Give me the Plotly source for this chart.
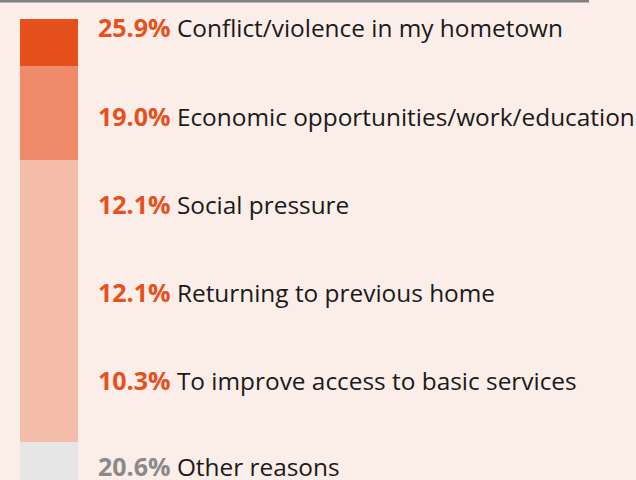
import plotly.graph_objects as go

# Data
categories = [
    "Conflict/violence in my hometown",
    "Economic opportunities/work/education",
    "Social pressure",
    "Returning to previous home",
    "To improve access to basic services",
    "Other reasons",
]
percentages = [25.9, 19.0, 12.1, 12.1, 10.3, 20.6]
# segment lengths of the single stacked bar, as drawn (relative units)
bar_units = [1, 2, 2, 2, 2, 2]

seg_colors = ["#e5501d", "#ef8b6b", "#f4bda9", "#f4bda9", "#f4bda9", "#e6e6e6"]
pct_colors = ["#e5501d"] * 5 + ["#8a8a8a"]

BG = "#fbede8"
W, H = 636, 480
px_per_unit = 47.0
bar_top_px = 19.0

fig = go.Figure()
for cat, u, c in zip(categories, bar_units, seg_colors):
    fig.add_trace(go.Bar(
        x=[0], y=[u], name=cat, marker=dict(color=c, line=dict(width=0)),
        width=1, hoverinfo="skip", showlegend=False,
    ))

y_top = -bar_top_px / px_per_unit
y_bot = (H - bar_top_px) / px_per_unit
x_left = -0.5 - 20 / 58.0
x_right = x_left + W / 58.0

label_px = [27, 116, 204, 292, 380, 466]
for cat, p, pc, lp in zip(categories, percentages, pct_colors, label_px):
    fig.add_annotation(
        xref="paper", yref="paper", x=96 / W, y=1 - lp / H,
        xanchor="left", yanchor="middle", showarrow=False,
        text=f"<b><span style='color:{pc};font-size:25px'>{p:.1f}%</span></b> {cat}",
        font=dict(family="Open Sans", size=24.4, color="#1a1a1a"),
    )

fig.add_shape(type="line", xref="paper", yref="paper",
              x0=0, x1=589 / W, y0=1 - 1 / H, y1=1 - 1 / H,
              line=dict(color="#808080", width=3))

fig.update_layout(
    width=W, height=H, margin=dict(l=0, r=0, t=0, b=0),
    paper_bgcolor=BG, plot_bgcolor=BG, barmode="stack", bargap=0,
    xaxis=dict(range=[x_left, x_right], visible=False, fixedrange=True),
    yaxis=dict(range=[y_bot, y_top], visible=False, fixedrange=True),
)

fig.write_html("out.html", config={"displayModeBar": False},
               post_script="document.body.style.margin='0';")
